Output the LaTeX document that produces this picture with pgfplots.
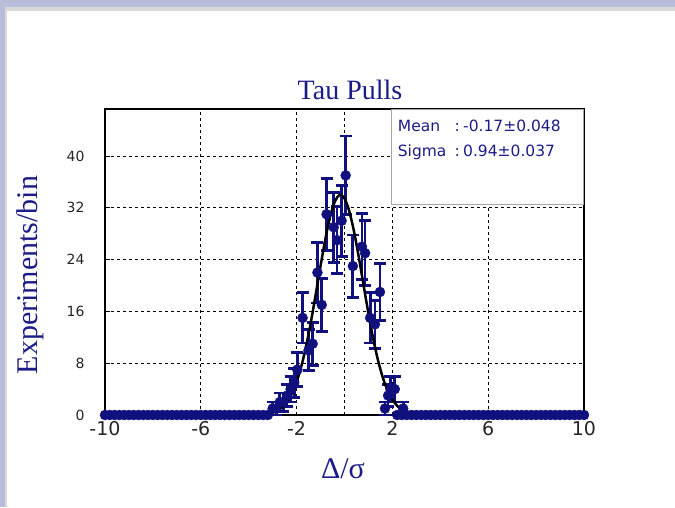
\documentclass[border=0pt]{standalone}
\usepackage{pgfplots}
\pgfplotsset{compat=1.18}
\usepackage{pgfplotstable}
\usepackage{fontspec}
\setmainfont{Liberation Serif}
\newfontfamily\dejavu{DejaVu Sans}
\definecolor{lav}{HTML}{B9BDDA}
\definecolor{edge}{HTML}{D8D8D8}
\definecolor{navyd}{HTML}{10107F}
\definecolor{navyt}{HTML}{1C1C88}

\pgfplotstableread{
x y e
-3.0 1 1
-2.85 1 1
-2.7 2 1.41
-2.55 2 1.41
-2.4 3 1.73
-2.25 4 2
-2.1 5 2.24
-1.97 7 2.65
-1.75 15 3.87
-1.5 10 3.16
-1.33 11 3.32
-1.13 22 4.69
-0.95 17 4.12
-0.75 31 5.57
-0.45 29 5.39
-0.31 27 5.20
-0.12 30 5.48
0.05 37 6.08
0.35 23 4.80
0.73 26 5.10
0.86 25 5.00
1.07 15 3.87
1.27 14 3.74
1.48 19 4.36
1.69 1 1
1.82 3 1.73
1.92 4 2
2.1 4 2
2.45 1 1
}\peak

\pgfplotstableread{
x y
-10 0
-9.8 0
-9.6 0
-9.4 0
-9.2 0
-9.0 0
-8.8 0
-8.6 0
-8.4 0
-8.2 0
-8.0 0
-7.8 0
-7.6 0
-7.4 0
-7.2 0
-7.0 0
-6.8 0
-6.6 0
-6.4 0
-6.2 0
-6.0 0
-5.8 0
-5.6 0
-5.4 0
-5.2 0
-5.0 0
-4.8 0
-4.6 0
-4.4 0
-4.2 0
-4.0 0
-3.8 0
-3.6 0
-3.4 0
-3.2 0
2.2 0
2.4 0
2.6 0
2.8 0
3.0 0
3.2 0
3.4 0
3.6 0
3.8 0
4.0 0
4.2 0
4.4 0
4.6 0
4.8 0
5.0 0
5.2 0
5.4 0
5.6 0
5.8 0
6.0 0
6.2 0
6.4 0
6.6 0
6.8 0
7.0 0
7.2 0
7.4 0
7.6 0
7.8 0
8.0 0
8.2 0
8.4 0
8.6 0
8.8 0
9.0 0
9.2 0
9.4 0
9.6 0
9.8 0
10.0 0
}\zeros

\begin{document}
\begin{tikzpicture}
\fill[white] (0pt,0pt) rectangle (675pt,507pt);
\fill[lav] (0pt,500pt) rectangle (675pt,507pt);
\fill[lav] (0pt,0pt) rectangle (5pt,507pt);
\fill[edge] (5pt,496pt) rectangle (675pt,500pt);
\fill[edge] (5pt,0pt) rectangle (7pt,496pt);
\begin{axis}[at={(105pt,92pt)}, anchor=south west, scale only axis,
  width=479pt, height=306pt,
  xmin=-10, xmax=10, ymin=0, ymax=47.26, clip=false,
  xtick={-10,-6,-2,0,2,6,10}, xticklabels={-10,-6,-2,{},2,6,10},
  ytick={0,8,16,24,32,40},
  grid=major, grid style={black, line width=0.8pt, dash pattern=on 3pt off 3pt},
  axis line style={black, line width=1.4pt},
  tick align=inside, ytick pos=left, xtick pos=bottom, major tick length=5pt,
  xtick style={draw=none}, ytick style={black, line width=1pt},
  xticklabel style={font=\dejavu\fontsize{19}{19}\selectfont, text=black!85, yshift=-3pt},
  yticklabel style={font=\dejavu\fontsize{14}{14}\selectfont, text=black!85, xshift=-17pt},
  /pgf/number format/assume math mode=true,
]
\addplot[navyd, only marks, mark=*, mark size=5pt, mark options={fill=navyd, draw=navyd}]
  table[x=x, y=y] {\zeros};
\addplot[navyd, only marks, mark=*, mark size=5pt, mark options={fill=navyd, draw=navyd},
  error bars/.cd, y dir=both, y explicit,
  error bar style={line width=2.8pt, navyd},
  error mark options={rotate=90, mark size=6pt, line width=2.8pt, navyd}]
  table[x=x, y=y, y error=e] {\peak};
\addplot[black, line width=2.5pt, smooth, no marks] coordinates {
(-3.6,0.04) (-3.4,0.093) (-3.2,0.188) (-3.0,0.366) (-2.8,0.679) (-2.6,1.203)
(-2.4,2.04) (-2.2,3.30) (-2.0,5.11) (-1.8,7.56) (-1.6,10.69) (-1.4,14.44)
(-1.2,18.66) (-1.0,23.03) (-0.8,27.16) (-0.6,30.62) (-0.4,33.00) (-0.2,33.98)
(0.0,33.45) (0.2,31.47) (0.4,28.29) (0.6,24.31) (0.8,19.97) (1.0,15.67)
(1.2,11.75) (1.4,8.43) (1.6,5.78) (1.8,3.78) (2.0,2.37) (2.2,1.42)
(2.4,0.81) (2.6,0.44) (2.8,0.23) (3.0,0.115) (3.2,0.05)
};
\end{axis}
\draw[gray!70, line width=0.8pt, fill=white] (391pt,303pt) rectangle (583pt,398pt);
\begin{scope}[every node/.style={inner sep=0pt, text=navyt, font=\dejavu\fontsize{15.5}{15.5}\selectfont}]
\node[anchor=base west] at (397.7pt,375.3pt) {Mean};
\node[anchor=base west] at (397.7pt,350.3pt) {Sigma};
\node[anchor=base west] at (454.5pt,375.3pt) {:};
\node[anchor=base west] at (454.5pt,350.3pt) {:};
\node[anchor=base west] at (463pt,375.3pt) {-0.17±0.048};
\node[anchor=base west] at (463pt,350.3pt) {0.94±0.037};
\end{scope}
\node[anchor=base, inner sep=0pt, text=navyt, font=\fontsize{28}{28}\selectfont] at (350pt,407pt) {Tau Pulls};
\node[anchor=base, rotate=90, inner sep=0pt, text=navyt, font=\fontsize{30}{30}\selectfont] at (37pt,232pt) {Experiments/bin};
\node[anchor=base, inner sep=0pt, text=navyt, font=\fontsize{30}{30}\selectfont] at (343pt,29pt) {Δ/σ};
\end{tikzpicture}
\end{document}
